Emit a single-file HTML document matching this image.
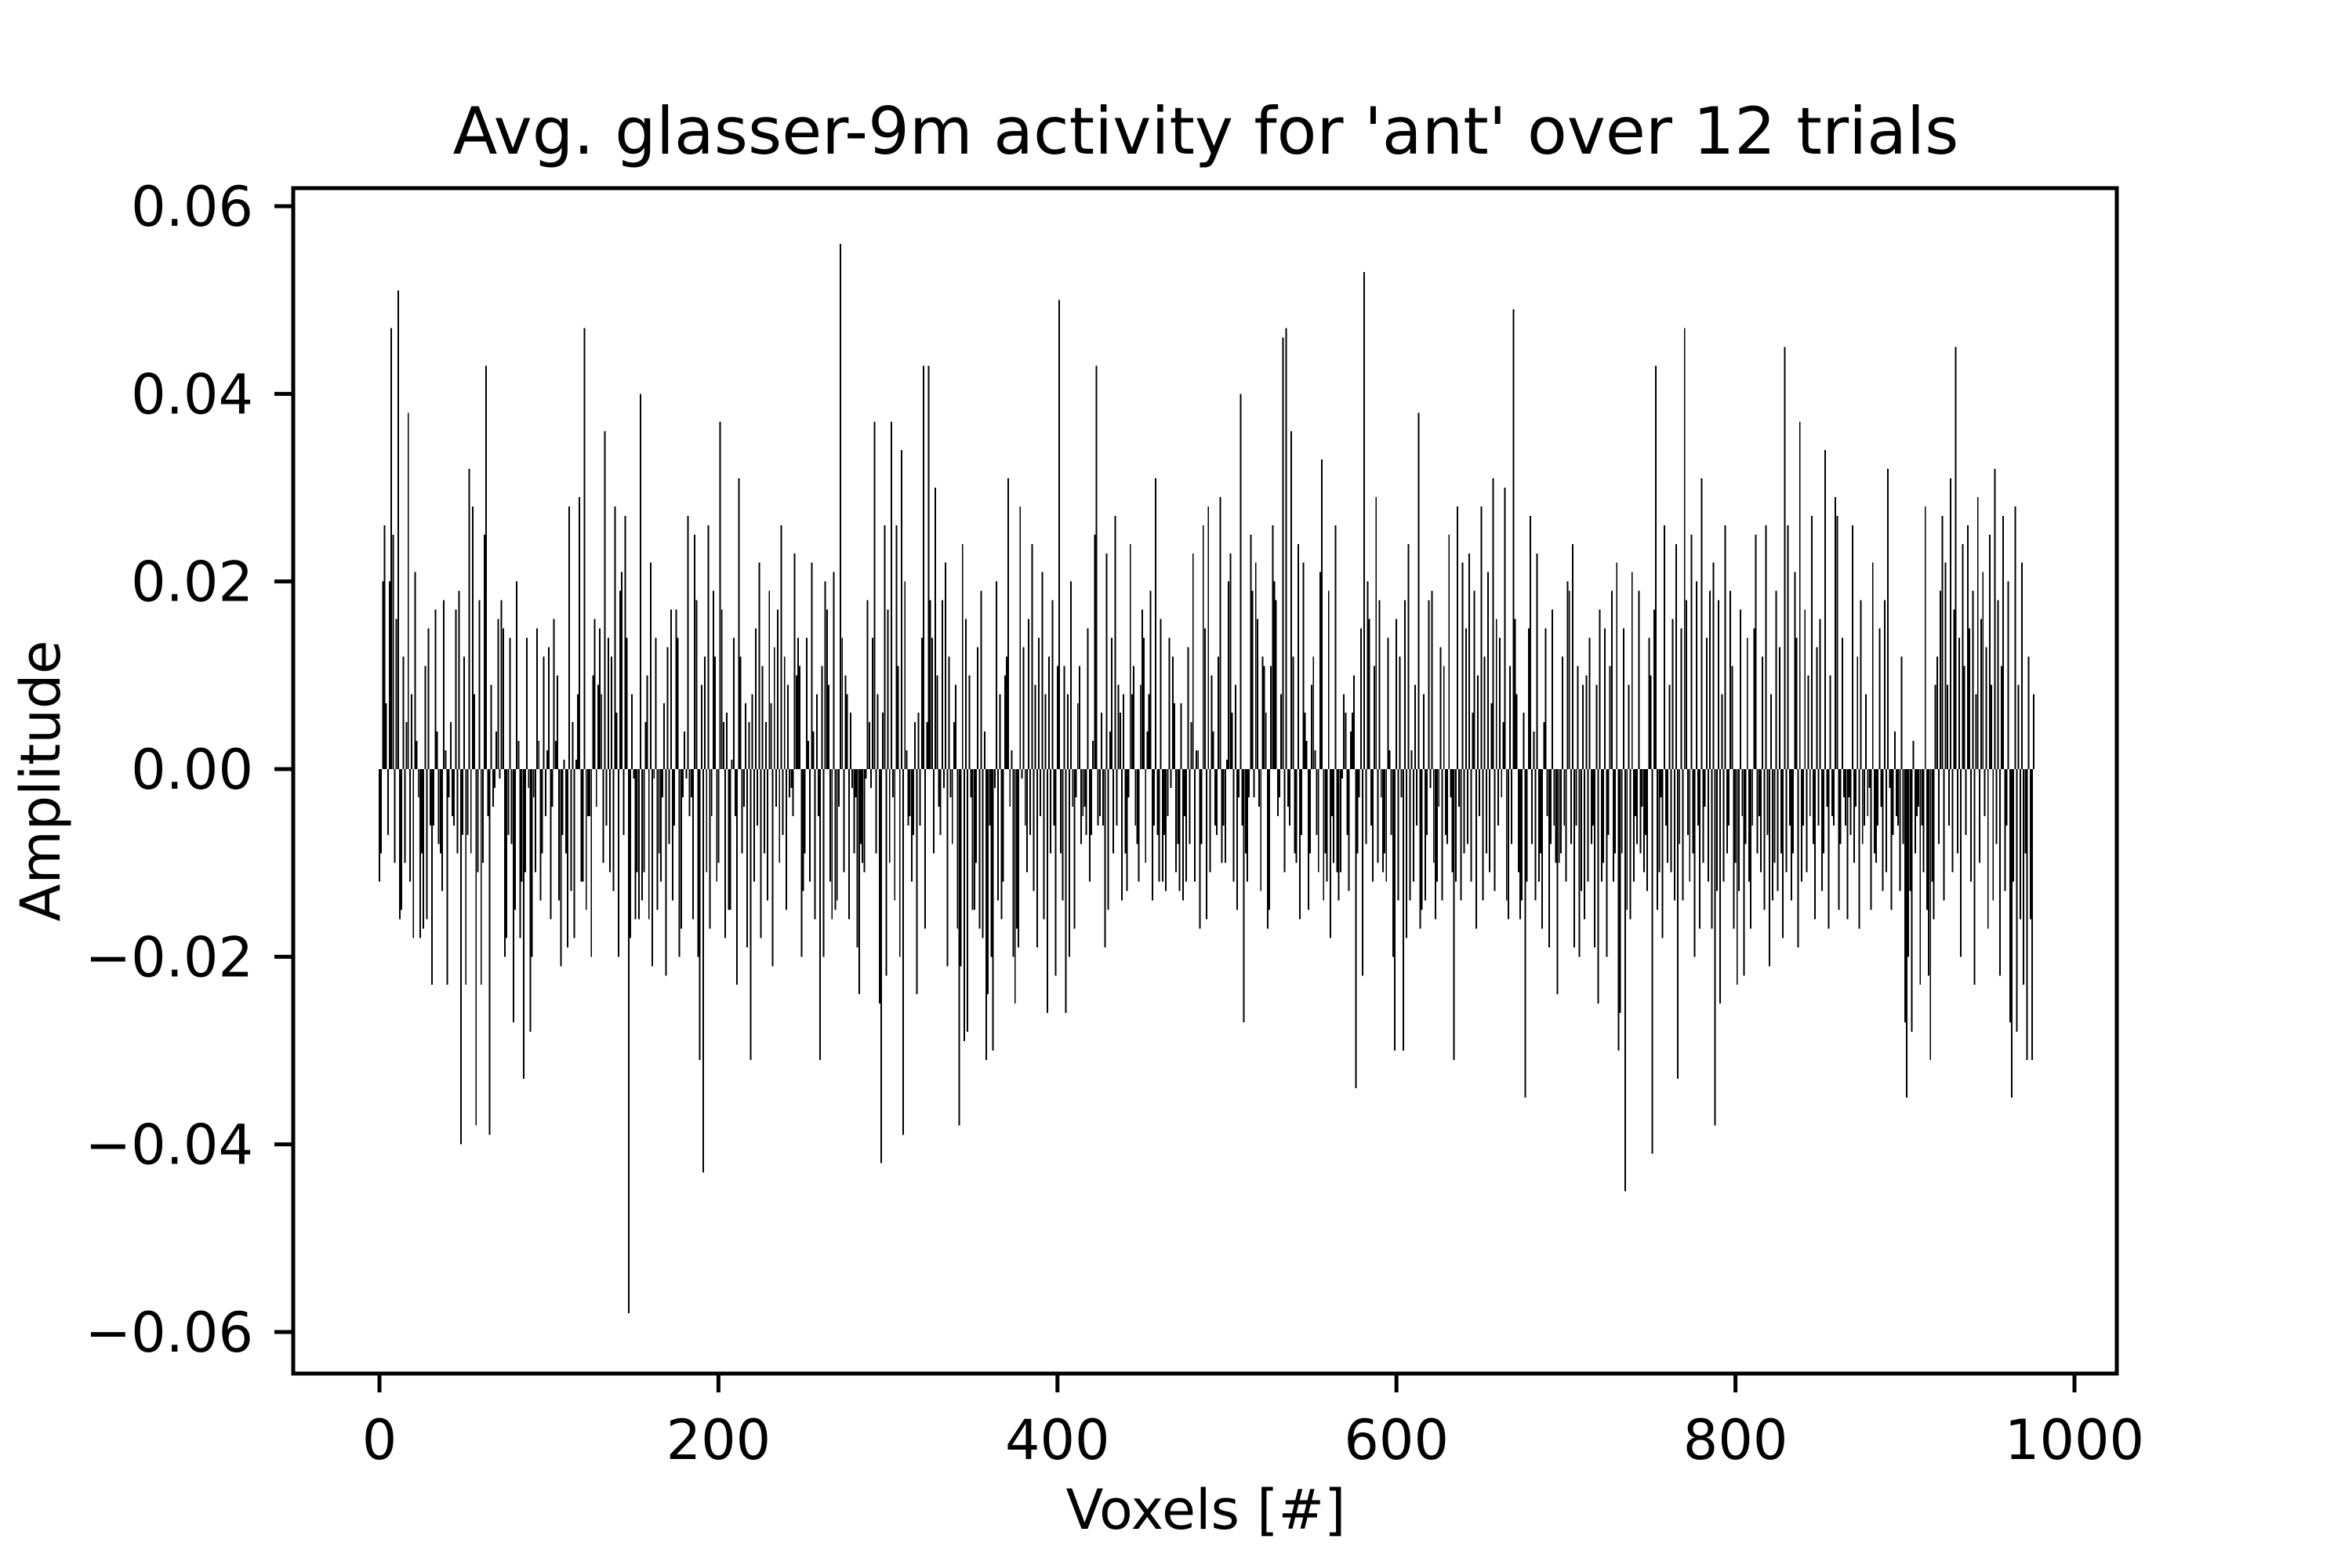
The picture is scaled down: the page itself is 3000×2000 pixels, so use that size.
<!DOCTYPE html>
<html><head><meta charset="utf-8">
<style>
html,body{margin:0;padding:0;background:#fff;}
svg{display:block;}
text{font-family:"DejaVu Sans","Liberation Sans",sans-serif;fill:#000;}
</style></head>
<body>
<svg id="chart" width="3000" height="2000" viewBox="0 0 3000 2000" xmlns="http://www.w3.org/2000/svg">
<rect x="0" y="0" width="3000" height="2000" fill="#fff"/>
<text x="1538" y="196" font-size="83" text-anchor="middle">Avg. glasser-9m activity for 'ant' over 12 trials</text>
<g id="bars" shape-rendering="crispEdges"></g>
<g id="axes"></g>
<text x="1538" y="1950" font-size="70" text-anchor="middle">Voxels [#]</text>
<text x="0" y="0" font-size="70" text-anchor="middle" transform="translate(76,996) rotate(-90)">Amplitude</text>
</svg>
<script>
const xTicks = [0, 200, 400, 600, 800, 1000];
const yTicks = [-0.06, -0.04, -0.02, 0.00, 0.02, 0.04, 0.06];
const yTickLabels = ["\u22120.06", "\u22120.04", "\u22120.02", "0.00", "0.02", "0.04", "0.06"];
// amplitude values in units of 1e-3, one per voxel
const amplitudes = [
-12,-9,20,26,7,-7,20,47,25,-10,16,51,-16,-15,12,-10,5,38,-12,8,
-18,21,3,-3,-18,-9,-17,11,-16,15,-6,-23,-6,17,4,-8,-9,-13,18,2,
-23,-3,5,-5,-6,17,-9,19,-40,-7,12,-23,-7,32,-9,28,8,-38,-11,18,
-23,-10,25,43,-5,-39,9,-4,-2,4,16,-1,18,15,-20,-18,-7,14,-8,-27,
-15,20,3,-18,-12,-33,-11,14,-2,-28,-20,-3,-11,15,3,-14,-9,12,-5,2,
13,-16,-4,16,3,10,-14,-21,-7,1,-9,-19,28,-13,5,-18,1,8,29,-12,
-12,47,-15,-5,-5,-20,10,16,-4,9,15,8,-10,36,-6,14,-11,12,-13,28,
6,-20,19,21,-7,27,14,-58,-18,8,-1,-16,-11,-16,40,-14,-11,5,10,-16,
22,-21,-1,14,-15,-9,-12,-3,7,-22,13,-8,17,-14,-6,17,14,-20,-17,-3,
4,-1,27,-5,-3,-16,25,18,-20,-31,9,-43,12,-11,26,-17,-5,19,12,-12,
-10,37,17,5,-18,6,-15,-15,1,14,-5,-23,31,12,-9,-4,7,-19,5,-31,
8,-12,15,-6,22,-18,11,-9,5,-14,19,7,-21,13,-4,17,-10,26,-7,12,-15,9,
-3,-2,-5,23,10,14,11,-20,-13,-9,14,3,-12,22,4,-16,8,-5,-31,11,
-20,20,17,9,-12,-16,21,-15,-14,-4,56,14,-11,10,8,-16,6,-2,-9,-3,
-19,-24,-8,-10,-11,-1,18,5,-2,14,37,-9,8,-25,-42,6,26,-22,17,-10,
37,-3,-14,26,11,-20,34,-39,20,2,-6,-5,-12,-7,5,-24,6,-6,14,43,
-17,5,43,18,14,-9,30,10,-4,-7,18,-2,22,-21,12,-3,-8,5,9,-17,
-38,-21,24,-29,16,-28,10,-3,-15,-15,-10,13,-17,19,-18,4,-31,-24,-6,-20,
-30,-2,20,-14,8,-16,-12,10,12,31,-4,2,-20,-25,-17,-19,28,-1,13,-6,
-11,16,-7,24,-13,9,-19,14,-5,21,-16,8,-26,12,-9,18,-6,-22,11,
50,-9,-14,11,-26,8,-20,20,-4,-17,-3,7,11,-8,-5,-4,-7,15,-12,-7,
3,25,43,-6,-5,6,-6,-19,23,-15,4,14,-9,27,-6,9,6,-14,8,-9,
-13,-3,24,8,11,-6,-8,-12,9,17,14,-10,4,8,19,-14,-6,31,-7,-12,
16,-12,-7,-13,-5,14,-2,12,7,-11,-8,-13,7,-14,-5,-12,13,-8,5,23,
-12,2,2,-17,-8,26,15,-16,28,-11,10,4,-6,-7,12,29,-10,-6,-10,1,
20,23,6,-12,9,-15,-3,40,-6,-27,-9,-12,-3,25,19,-3,22,16,-4,-13,
12,11,6,-17,-15,11,26,20,18,-5,-3,8,46,-11,47,-4,-6,36,12,-9,
-10,24,-16,-7,22,6,3,-15,-9,9,12,2,-7,-11,21,33,-14,-9,-12,19,
-18,-5,-10,26,-11,-14,-11,-1,8,6,-7,-13,4,6,10,-34,-9,-3,15,-22,
53,-8,20,16,-6,-12,11,29,-10,18,-3,-11,-9,-12,14,2,-7,-20,-30,16,
-14,12,-3,-30,18,-18,24,-14,2,-12,9,-6,38,-17,-15,8,-14,-7,18,-2,
19,-10,-16,-12,-4,13,-14,11,-7,-8,25,-3,-11,-31,-12,28,-4,-14,22,-9,
15,-8,23,-12,6,19,-17,10,-5,28,-14,12,-9,21,-11,7,31,-13,16,-6,14,
-3,5,30,-14,-16,11,-8,49,16,8,-11,-16,-14,6,-35,-12,15,27,-8,4,
-14,23,-12,-9,-17,5,15,-5,-19,-8,17,-6,-10,-24,-10,-9,12,-6,-12,20,
19,-8,24,-19,-6,11,-20,-13,9,-16,10,-12,14,-8,-6,-19,9,-25,17,-12,
-10,15,-20,-7,11,19,-12,-9,22,-30,-26,-9,15,-45,-15,9,-16,21,-12,-5,
-8,19,-9,-4,-11,-7,-13,14,10,-41,17,43,-15,-11,-3,-18,26,-6,-10,9,
-11,16,-14,24,-33,-8,15,-14,47,18,-7,-12,25,-9,-20,20,-6,-17,31,-10,
-4,14,-12,19,-17,22,-38,-13,18,-25,8,-12,26,-9,-6,19,11,-17,-10,-23,
-13,17,-5,-22,-8,14,-12,-17,-6,15,25,-9,-5,-11,12,-15,26,-7,-21,8,
-14,-10,19,-13,13,-9,-18,45,-11,26,-6,-14,-9,21,14,-19,37,-12,-6,17,
-11,10,-5,27,-8,-16,13,-6,16,-13,-9,34,-4,-17,10,-5,-6,29,27,-15,
-8,14,-3,-6,-16,-3,-7,26,-10,-4,12,-17,18,-8,-6,8,-5,-2,-15,22,
-9,-10,-6,15,-4,-13,18,-11,32,-2,-15,-7,4,-5,-6,-13,12,-8,-27,-35,
-20,-13,-28,3,-9,-5,-4,-23,-6,-11,28,-15,-22,-31,-12,-16,9,
12,-8,19,27,-14,22,9,-6,31,-11,17,45,-9,14,-20,24,11,-7,26,15,
-12,19,-23,8,29,-10,16,21,-5,13,-17,25,9,-14,32,-8,18,-22,11,27,
-13,-6,20,-27,-35,-12,28,-28,9,-16,22,-23,-9,-31,12,-16,-31,8
];
const X0 = 484, X1000 = 2646;
const YTOP = 263, YBOT = 1699;
const Y0 = (YTOP + YBOT) / 2, YPER = (YBOT - YTOP) / 0.12;
function xScale(v){ return X0 + (X1000 - X0) * v / 1000; }
function yScale(v){ return Y0 - v * YPER; }
const NS = "http://www.w3.org/2000/svg";
const barsG = document.getElementById('bars');
const bw = (xScale(1) - xScale(0)) * 0.9;
amplitudes.forEach(function(a, i){
  const v = a / 1000;
  const r = document.createElementNS(NS, 'rect');
  
  
  const y1 = yScale(Math.max(v, 0)), y2 = yScale(Math.min(v, 0));
  r.setAttribute('x', (xScale(i) - bw / 2).toFixed(2));
  r.setAttribute('y', y1.toFixed(2));
  r.setAttribute('width', bw.toFixed(2));
  r.setAttribute('height', Math.max(y2 - y1, 1).toFixed(2));
  r.setAttribute('fill', '#000');
  barsG.appendChild(r);
});
const axesG = document.getElementById('axes');
const frame = document.createElementNS(NS, 'rect');


frame.setAttribute('x', 374); frame.setAttribute('y', 240);
frame.setAttribute('width', 2326); frame.setAttribute('height', 1512);
frame.setAttribute('fill', 'none'); frame.setAttribute('stroke', '#000'); frame.setAttribute('stroke-width', 5);
axesG.appendChild(frame);
xTicks.forEach(function(t){
  const x = xScale(t);
  const l = document.createElementNS(NS, 'line');
  
  
  l.setAttribute('x1', x); l.setAttribute('x2', x); l.setAttribute('y1', 1752); l.setAttribute('y2', 1776);
  l.setAttribute('stroke', '#000'); l.setAttribute('stroke-width', 5);
  axesG.appendChild(l);
  const tx = document.createElementNS(NS, 'text');
  
  
  tx.setAttribute('x', x); tx.setAttribute('y', 1861);
  tx.setAttribute('font-size', '70'); tx.setAttribute('text-anchor', 'middle');
  tx.textContent = String(t);
  axesG.appendChild(tx);
});
yTicks.forEach(function(t, i){
  const y = yScale(t);
  const l = document.createElementNS(NS, 'line');
  
  
  l.setAttribute('x1', 350); l.setAttribute('x2', 374); l.setAttribute('y1', y); l.setAttribute('y2', y);
  l.setAttribute('stroke', '#000'); l.setAttribute('stroke-width', 5);
  axesG.appendChild(l);
  const tx = document.createElementNS(NS, 'text');
  
  
  tx.setAttribute('x', 323); tx.setAttribute('y', y + 25);
  tx.setAttribute('font-size', '70'); tx.setAttribute('text-anchor', 'end');
  tx.textContent = yTickLabels[i];
  axesG.appendChild(tx);
});
</script>
</body></html>
